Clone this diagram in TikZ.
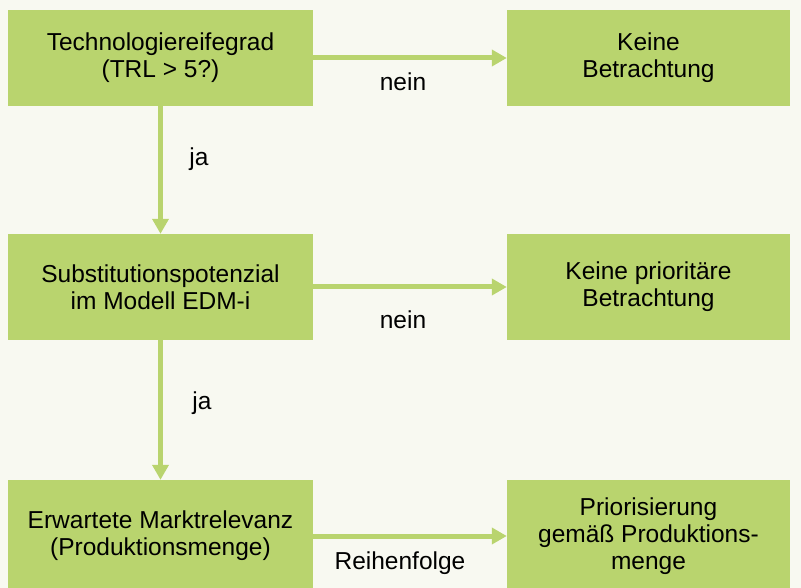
\documentclass[tikz,border=0pt]{standalone}
\usepackage{fontspec}
\setmainfont{Liberation Sans}
\usetikzlibrary{arrows.meta}
\definecolor{bg}{HTML}{F8F9F1}
\definecolor{boxgreen}{HTML}{B9D46E}
\tikzset{
  box/.style={fill=boxgreen, draw=none, inner sep=0pt, align=center, font=\fontsize{24.5}{27}\selectfont},
  conn/.style={draw=boxgreen, line width=5pt, -{Triangle[width=16pt,length=15pt]}},
  lbl/.style={font=\fontsize{24.5}{27}\selectfont, inner sep=0pt}
}
\begin{document}
\begin{tikzpicture}[x=1pt,y=-1pt]
\clip (0,0) rectangle (801,588);
\fill[bg] (0,0) rectangle (801,588);
\node[box, minimum width=305pt, minimum height=96pt] (a) at (160.5,58) {Technologiereifegrad\\(TRL > 5?)};
\node[box, minimum width=283pt, minimum height=96pt] (b) at (648.5,58) {Keine\\Betrachtung};
\node[box, minimum width=305pt, minimum height=106pt] (c) at (160.5,287) {Substitutionspotenzial\\im Modell EDM-i};
\node[box, minimum width=283pt, minimum height=106pt] (d) at (648.5,287) {Keine prioritäre\\Betrachtung};
\node[box, minimum width=305pt, minimum height=112pt] (e) at (160.5,536) {Erwartete Marktrelevanz\\(Produktionsmenge)};
\node[box, minimum width=283pt, minimum height=112pt] (f) at (648.5,536) {Priorisierung\\gemäß Produktions-\\menge};
\draw[conn] (a.east) -- (b.west);
\draw[conn] (c.east) -- (d.west);
\draw[conn] (e.east) -- (f.west);
\draw[conn] (a.south) -- (c.north);
\draw[conn] (c.south) -- (e.north);
\node[lbl] (n1) at (403,82) {nein};
\node[lbl] (n2) at (403,320) {nein};
\node[lbl] (j1) at (199,159) {ja};
\node[lbl] (j2) at (202,403) {ja};
\node[lbl] (r) at (400,563) {Reihenfolge};
\end{tikzpicture}
\end{document}
